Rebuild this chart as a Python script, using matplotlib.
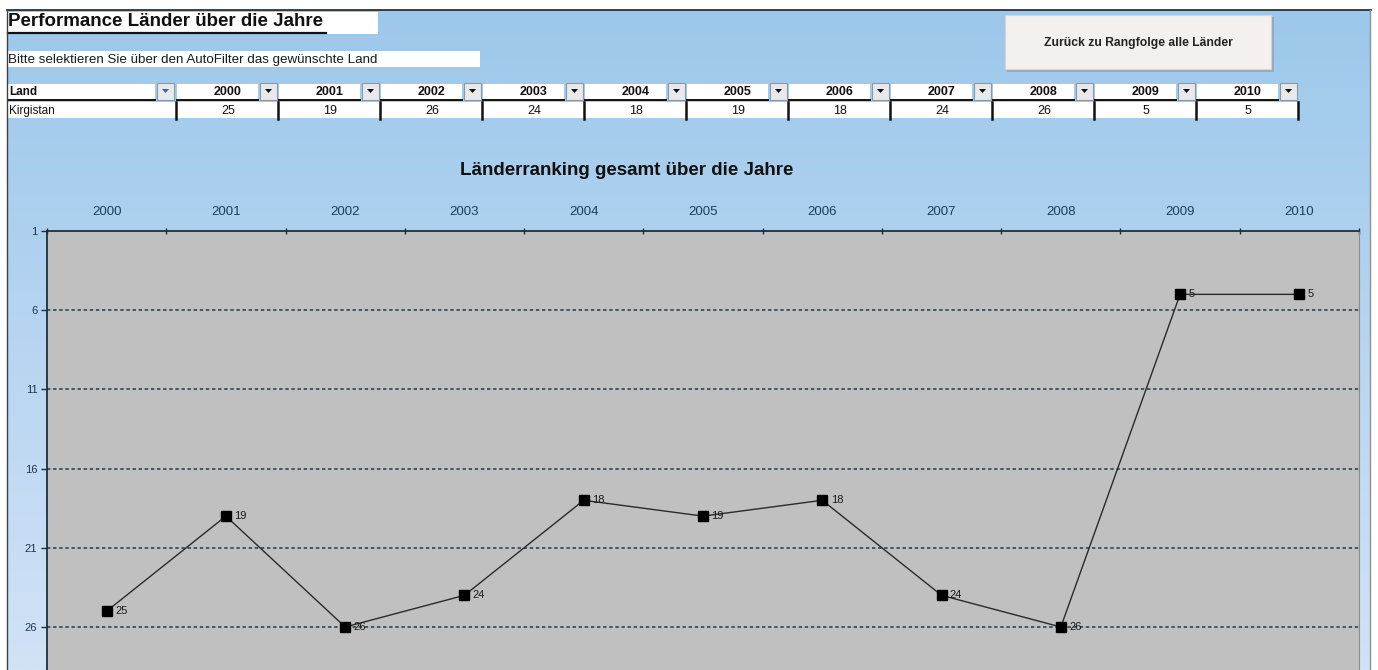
import matplotlib
matplotlib.use("Agg")
import matplotlib.pyplot as plt
import matplotlib.patches as mpatches
from matplotlib.lines import Line2D
import numpy as np

plt.rcParams['font.family'] = ['Liberation Sans', 'DejaVu Sans']

# ---- data ----
years = ['2000', '2001', '2002', '2003', '2004', '2005', '2006', '2007', '2008', '2009', '2010']
ranks = [25, 19, 26, 24, 18, 19, 18, 24, 26, 5, 5]
country = 'Kirgistan'
y_ticks = [1, 6, 11, 16, 21, 26]
y_max = 31

page_title = 'Performance Länder über die Jahre'
page_hint = 'Bitte selektieren Sie über den AutoFilter das gewünschte Land'
button_text = 'Zurück zu Rangfolge alle Länder'
chart_title = 'Länderranking gesamt über die Jahre'
col_label = 'Land'

W, H = 1378, 670
fig = plt.figure(figsize=(W / 100, H / 100), dpi=100)
fig.patch.set_facecolor('white')


def fx(x):
    return x / W


def fy(y):
    return 1 - y / H


def rect(x0, y0, x1, y1, **kw):
    r = mpatches.Rectangle((fx(x0), fy(y1)), (x1 - x0) / W, (y1 - y0) / H,
                           transform=fig.transFigure, **kw)
    fig.add_artist(r)
    return r


def line(x0, y0, x1, y1, **kw):
    l = Line2D([fx(x0), fx(x1)], [fy(y0), fy(y1)], transform=fig.transFigure, **kw)
    fig.add_artist(l)
    return l


def text(x, y, s, **kw):
    return fig.text(fx(x), fy(y), s, **kw)


# ---- background gradient ----
bg = fig.add_axes([fx(7), 0, fx(1371) - fx(7), fy(10)], zorder=-10)
top_c = np.array([0x9C, 0xC8, 0xEB]) / 255
bot_c = np.array([0xD2, 0xE2, 0xF7]) / 255
t = np.linspace(0, 1, 256)[:, None]
grad = top_c[None, :] * (1 - t) + bot_c[None, :] * t
bg.imshow(grad[:, None, :].repeat(4, axis=1), aspect='auto', extent=[0, 1, 0, 1])
bg.set_axis_off()

# frame lines
line(7, 10, 1371, 10, color='#202020', lw=1.2, zorder=5)
line(7, 10, 7, 670, color='#404040', lw=1.0, zorder=5)
line(1370, 10, 1370, 670, color='#909090', lw=1.0, zorder=5)

# ---- page title & hint ----
rect(8, 12, 378, 34, facecolor='white', edgecolor='none', zorder=1)
text(8, 22, page_title, fontsize=13.5, fontweight='bold', color='#111111',
     va='center', ha='left', zorder=3)
line(8, 33, 326, 33, color='#111111', lw=1.6, zorder=3)

rect(8, 51, 480, 67, facecolor='white', edgecolor='none', zorder=1)
text(8, 59.5, page_hint, fontsize=9.6, color='#1a1a1a', va='center', ha='left', zorder=3)

# ---- button ----
rect(1007, 17, 1274, 72, facecolor='#9aa8b8', edgecolor='none', zorder=1)
rect(1005, 15, 1271, 69, facecolor='#F3F0EE', edgecolor='#d8d4d0', lw=0.8, zorder=2)
text(1138, 43, button_text, fontsize=8.7, fontweight='bold', color='#222222',
     va='center', ha='center', zorder=3)

# ---- table ----
x0_tab = 176
cw = 102
# header row
rect(8, 84, 155, 100, facecolor='white', edgecolor='none', zorder=1)
text(9, 92, col_label, fontsize=8.5, fontweight='bold', color='#111111', va='center', zorder=3)
line(8, 100, 155, 100, color='#111111', lw=1.4, zorder=3)


def dropdown(xa, arrow_color):
    rect(xa, 83, xa + 17, 100, facecolor='#E9E9EC', edgecolor='#8898a8', lw=0.8, zorder=2)
    tri = mpatches.Polygon([[fx(xa + 5), fy(89)], [fx(xa + 12), fy(89)], [fx(xa + 8.5), fy(93)]],
                           closed=True, transform=fig.transFigure, facecolor=arrow_color,
                           edgecolor='none', zorder=3)
    fig.add_artist(tri)


dropdown(157, '#3a62c0')
for i, yr in enumerate(years):
    cx = x0_tab + cw * i
    rect(cx + 1, 84, cx + 82, 100, facecolor='white', edgecolor='none', zorder=1)
    line(cx + 1, 100, cx + 82, 100, color='#111111', lw=1.4, zorder=3)
    text(cx + 52, 92, yr, fontsize=9, fontweight='bold', color='#111111',
         va='center', ha='center', zorder=3)
    dropdown(cx + 84, '#111111')

# data row
rect(8, 102, x0_tab + cw * len(years), 118, facecolor='white', edgecolor='none', zorder=1)
text(9, 111, country, fontsize=8.5, color='#111111', va='center', zorder=3)
for i, v in enumerate(ranks):
    cx = x0_tab + cw * i
    text(cx + 52, 110.5, str(v), fontsize=9, color='#111111', va='center', ha='center', zorder=3)
for i in range(len(years) + 1):
    cx = x0_tab + cw * i
    line(cx, 102, cx, 119, color='#111111', lw=1.8, zorder=3)

# ---- chart ----
text(627, 170, chart_title, fontsize=13.5, fontweight='bold', color='#111111',
     va='center', ha='center', zorder=3)

ax_left, ax_right, ax_top = 47, 1359, 231
px_per_unit = (627 - 231) / 25.0
ax_bottom = ax_top + px_per_unit * (y_max - y_ticks[0])
ax = fig.add_axes([fx(ax_left), fy(ax_bottom), (ax_right - ax_left) / W,
                   (ax_bottom - ax_top) / H])
ax.set_facecolor('#C0C0C0')

xs = np.arange(len(years))
ax.plot(xs, ranks, color='#2a2a2a', lw=1.0, marker='s', markersize=7,
        markerfacecolor='black', markeredgecolor='black', zorder=5)
for x, v in zip(xs, ranks):
    ax.annotate(str(v), (x, v), xytext=(6, 0), textcoords='offset points',
                fontsize=8, color='#1a1a1a', va='center', ha='left', zorder=6)

ax.set_xlim(-0.5, len(years) - 0.5)
ax.set_ylim(y_max, y_ticks[0])

ax.xaxis.tick_top()
ax.set_xticks(np.arange(len(years) + 1) - 0.5)
ax.set_xticklabels([])
ax.set_xticks(xs, minor=True)
ax.set_xticklabels(years, minor=True)
ax.tick_params(axis='x', which='major', direction='inout', length=5, width=1,
               color='#1A3040', top=True, bottom=False)
ax.tick_params(axis='x', which='minor', length=0, pad=9, labelsize=9.5,
               labelcolor='#1F3C5E', top=True, bottom=False)

ax.set_yticks(y_ticks)
ax.set_yticklabels([str(v) for v in y_ticks])
ax.tick_params(axis='y', which='major', direction='out', length=4, width=1,
               color='#1A3040', labelsize=8, labelcolor='#1F3550', pad=3)

for yv in y_ticks[1:] + [y_max]:
    ax.axhline(yv, color='#1F3A4A', lw=1.1, linestyle=(0, (2.2, 1.8)), zorder=2)

ax.spines['top'].set_color('#1A3040')
ax.spines['top'].set_linewidth(1.3)
ax.spines['left'].set_color('#1A3040')
ax.spines['left'].set_linewidth(1.3)
ax.spines['right'].set_color('#8a8a8a')
ax.spines['right'].set_linewidth(0.8)
ax.spines['bottom'].set_visible(False)

fig.savefig('out.png', dpi=100)
